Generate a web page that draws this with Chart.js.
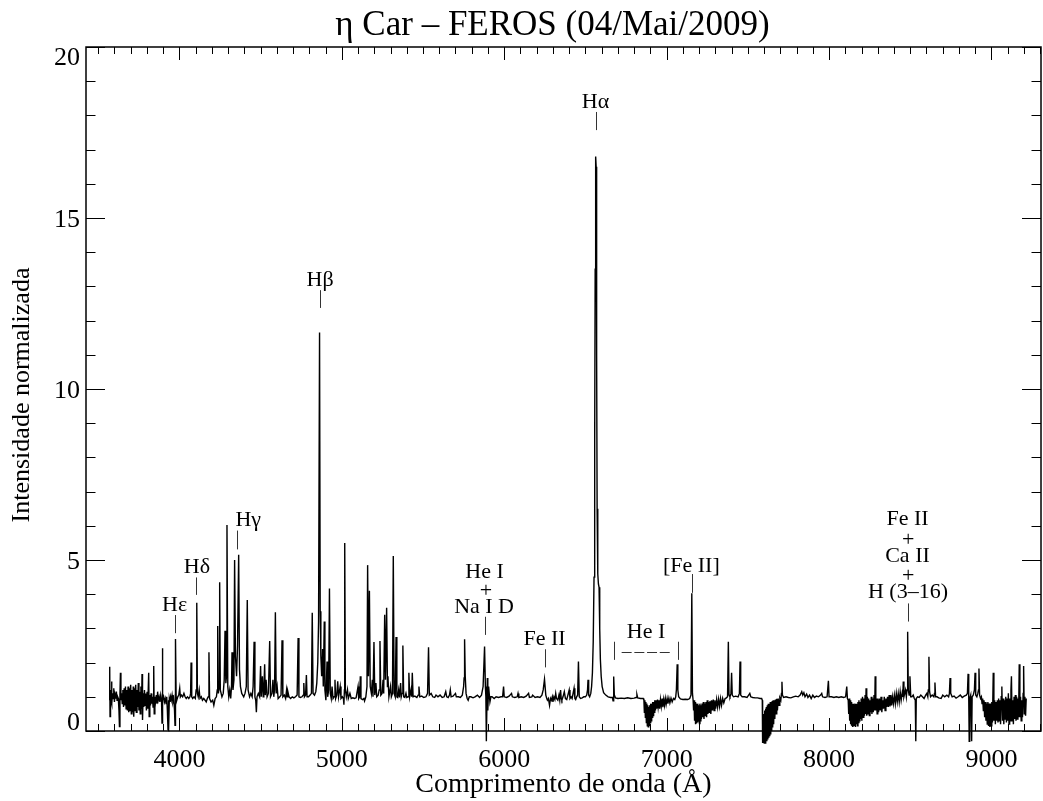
<!DOCTYPE html>
<html>
<head>
<meta charset="utf-8">
<script src="https://cdn.jsdelivr.net/npm/chart.js@4.4.1/dist/chart.umd.min.js"></script>
<style>
  html, body { margin: 0; padding: 0; background: #fff; }
  #wrap { width: 1043px; height: 801px; }
</style>
</head>
<body>
<div id="wrap"><canvas id="specChart" width="1043" height="801"></canvas></div>
<script>
// eta Car, FEROS, 2009-05-04: normalised flux vs wavelength (Angstrom)
const segBlue = [
  [3568,0.90],[3571,1.88],[3573,0.42],[3576,1.20],[3579,0.90],[3582,1.45],[3585,0.80],[3588,1.10],[3592,0.95],[3596,1.25],
  [3600,0.85],[3604,1.05],[3608,0.95],[3612,1.15],[3616,0.90],[3620,1.00],[3624,0.95],[3628,0.60],[3631,0.13],[3634,1.05],
  [3637,1.70],[3640,0.90],[3644,1.10],[3648,0.80],[3652,1.20],[3656,0.70],[3660,1.25],[3664,0.75],[3668,1.30],[3672,0.65],
  [3676,1.20],[3680,0.60],[3684,1.30],[3688,0.55],[3692,1.25],[3696,0.60],[3700,1.35],[3704,0.50],[3708,1.20],[3712,0.55],
  [3716,1.30],[3719,0.42],[3723,1.25],[3727,0.60],[3731,1.35],[3735,0.55],[3739,1.20],[3743,0.70],[3747,1.40],[3751,0.60],
  [3755,1.15],[3759,0.50],[3763,1.30],[3767,0.65],[3770,1.67],[3773,0.32],[3777,1.10],[3781,0.70],[3785,1.20],[3789,0.75],
  [3793,1.10],[3797,0.60],[3801,1.15],[3805,0.65],[3811,1.70],[3814,0.42],[3818,1.05],[3822,0.75],[3826,1.10],[3830,0.80],
  [3834,1.00],[3838,0.70],[3842,1.90],[3845,0.50],[3849,1.00],[3853,0.85],[3858,1.05],[3862,0.80],[3866,1.15],[3870,0.90],
  [3875,1.00],[3880,0.85],[3885,1.05],[3890,0.90],[3893,0.23],[3895,2.42],[3898,0.90],[3903,1.00],[3908,0.85],[3913,0.95],
  [3918,0.80],[3922,1.00],[3926,0.60],[3930,0.04],[3932,0.90],[3935,0.02],[3938,0.95],[3942,0.85],[3946,1.00],[3950,0.90],
  [3955,1.05],[3960,0.85],[3965,0.95],[3970,0.60],[3973,0.17],[3975,1.00],[3977,2.69],[3980,1.00],[3984,0.90],[3990,1.00],
  [3996,1.05],[4002,1.25],[4006,1.00],[4012,1.05],[4020,1.00],[4028,1.10],[4035,1.00],[4042,0.95],[4050,1.00],[4058,0.95],
  [4065,1.00],[4069,1.10],[4072,2.00],[4076,1.00],[4082,0.95],[4090,1.00],[4098,0.95],[4103,1.20],[4107,3.75],[4111,1.10],
  [4116,1.00],[4122,1.20],[4127,0.95],[4135,1.00],[4142,0.90],[4150,0.95],[4158,0.90],[4165,0.85],[4172,0.95],[4178,1.00],
  [4182,2.30],[4186,0.95],[4195,0.85],[4205,0.90],[4212,0.75],[4220,0.95],[4228,1.00],[4233,1.20],[4236,3.07],[4240,1.10],
  [4245,1.30],[4248,4.35],[4252,1.20],[4262,1.00],[4270,1.10],[4276,1.50],[4281,2.93],[4286,1.40],[4290,1.60],[4293,6.02],
  [4298,1.30],[4304,1.00],[4310,1.20],[4316,0.95],[4321,1.30],[4324,2.30],[4330,1.20],[4336,1.50],[4340,5.00],[4345,2.20],
  [4352,1.60],[4358,2.50],[4365,5.15],[4370,1.80],[4376,1.30],[4384,1.10],[4390,1.05],[4396,1.00],[4404,1.10],[4412,1.30],
  [4418,3.83],[4423,1.20],[4432,1.00],[4440,1.10],[4448,1.00],[4454,1.30],[4460,2.61],[4465,1.00],[4470,0.90],[4474,0.55],
  [4478,1.00]
];

const segGreen = [
  [4486,1.10],[4494,1.00],[4500,1.90],[4504,1.00],[4511,1.60],[4516,1.00],[4520,1.20],[4525,1.95],[4529,1.05],[4534,1.50],
  [4540,1.00],[4548,1.10],[4556,2.63],[4561,1.00],[4570,1.10],[4576,1.50],[4581,1.00],[4586,1.20],[4591,3.47],[4596,1.10],
  [4602,1.30],[4608,0.95],[4618,1.00],[4626,1.05],[4632,2.65],[4637,1.00],[4646,1.05],[4654,0.95],[4660,1.20],[4664,1.00],
  [4668,1.15],[4675,1.00],[4685,0.95],[4695,1.00],[4705,0.97],[4715,1.00],[4725,1.05],[4731,2.72],[4736,1.00],[4745,0.98],
  [4755,1.00],[4762,1.05],[4766,1.40],[4770,1.00],[4777,1.05],[4782,1.64],[4786,1.00],[4795,1.00],[4805,1.05],[4813,1.10],
  [4818,3.46],[4823,1.10],[4832,1.05],[4840,1.15],[4846,1.40],[4852,2.00],[4857,3.20],[4863,11.65],[4867,3.50],[4871,2.20],
  [4876,1.60],[4882,2.40],[4886,1.30],[4892,3.20],[4896,1.20],[4902,0.90],[4909,2.03],[4913,1.00],[4919,1.20],[4924,4.17],
  [4929,1.10],[4935,0.95],[4940,1.30],[4946,0.95],[4952,1.00],[4958,1.50],[4962,0.95],[4969,1.05],[4975,1.45],[4980,1.00],
  [4990,1.30],[4995,0.95],[5003,1.00],[5010,0.95],[5013,0.77],[5016,1.20],[5018,5.50],[5022,1.20],[5028,1.00],[5035,1.20],
  [5040,0.95],[5050,1.10],[5058,0.95],[5068,0.97],[5078,0.95],[5088,0.97],[5100,1.30],[5104,0.95],[5110,1.00],[5114,1.60],
  [5118,0.95],[5128,0.92],[5136,0.95],[5140,0.88],[5148,1.00],[5155,1.30],[5159,4.85],[5164,1.60],[5170,4.10],[5175,1.30],
  [5182,1.10],[5188,1.50],[5192,1.00],[5198,2.60],[5203,1.05],[5210,1.40],[5215,1.00],[5224,1.05],[5230,1.20],[5235,2.63],
  [5240,1.05],[5248,1.10],[5254,1.50],[5258,1.10],[5264,3.40],[5269,1.50],[5276,3.60],[5281,1.30],[5284,1.60],[5290,1.00],
  [5300,1.30],[5305,1.00],[5312,1.10],[5317,5.12],[5322,1.10],[5329,1.00],[5334,2.75],[5339,1.00],[5344,0.98],[5350,1.20],
  [5355,0.98],[5362,1.40],[5366,1.00],[5371,1.10],[5376,2.50],[5381,1.00],[5388,0.98],[5395,1.10],[5400,0.98],[5408,1.00],
  [5413,1.70],[5418,1.00],[5426,1.20],[5430,1.00],[5434,1.70],[5439,1.00],[5450,1.02],[5462,0.98],[5470,1.05],[5475,1.30],
  [5480,1.00],[5492,1.02],[5505,0.98],[5518,1.00],[5528,1.10],[5534,2.45],[5539,1.05],[5550,1.10],[5560,1.00],[5572,0.98],
  [5580,1.05],[5592,1.00]
];

const segYellow = [
  [5605,1.05],[5618,0.98],[5630,1.00],[5640,1.15],[5646,1.00],[5655,0.98],[5663,1.05],[5668,1.20],[5673,1.00],[5685,1.02],
  [5700,1.10],[5705,1.00],[5718,1.00],[5730,0.98],[5742,1.05],[5750,1.30],[5753,1.55],[5756,2.68],[5760,1.60],[5765,1.10],
  [5772,0.95],[5778,0.90],[5785,1.00],[5795,1.00],[5808,0.97],[5820,1.00],[5835,1.05],[5848,0.98],[5860,1.05],[5870,1.30],
  [5879,2.47],[5884,1.30],[5887,1.00],[5890,-0.30],[5893,-0.30],[5896,1.55],[5899,0.60],[5904,1.30],[5912,0.85],[5918,1.00],
  [5925,1.00],[5938,0.95],[5950,1.00],[5965,0.98],[5980,1.00],[5990,1.00],[5996,1.30],[6000,1.00],[6015,0.98],[6030,1.02],
  [6045,1.10],[6050,1.00],[6065,0.98],[6080,1.00],[6085,1.10],[6090,0.98],[6105,1.00],[6120,0.98],[6135,1.02],[6150,1.10],
  [6155,0.98],[6170,1.00],[6175,1.05],[6190,0.98],[6205,1.00],[6220,0.98],[6232,1.05],[6240,1.20],[6248,1.51],[6256,1.05],
  [6262,0.95],[6266,0.90],[6272,0.95],[6279,0.75],[6285,0.95],[6290,0.90],[6296,1.00],[6300,0.85],[6306,1.00],[6312,0.92],
  [6317,1.10],[6322,0.95],[6330,0.90],[6337,1.05],[6342,0.90],[6347,1.20],[6351,0.95],[6355,0.90],[6362,1.00],[6370,1.15],
  [6377,0.95],[6385,0.92],[6392,1.05],[6400,1.20],[6405,0.95],[6412,1.00],[6418,0.95],[6424,1.10],[6430,1.25],[6435,0.95],
  [6440,0.92],[6446,1.00],[6452,1.05],[6457,2.03],[6462,1.00],[6470,0.95],[6480,0.97],[6490,1.00],[6500,1.00],[6508,1.05],
  [6513,1.20],[6516,1.50],[6520,1.05],[6526,1.00]
];

const segRed = [
  [6533,1.10],[6538,1.30],[6543,1.70],[6548,2.60],[6553,4.50],[6557,8.50],[6560,13.50],[6563,16.80],[6566,16.50],[6569,11.00],
  [6572,6.50],[6576,4.60],[6580,4.30],[6584,4.20],[6588,3.00],[6592,2.10],[6597,1.60],[6603,1.30],[6612,1.12],[6625,1.05],
  [6640,1.00],[6655,0.98],[6666,0.98],[6670,0.88],[6674,1.59],[6678,1.05],[6685,0.97],[6700,0.95],[6720,0.96],[6740,0.95],
  [6760,0.97],[6780,0.95],[6800,0.96],[6812,0.98],[6817,1.07],[6822,0.97],[6840,0.95],[6856,0.95],
  [6860,0.90],[6863,0.55],[6866,0.90],[6869,0.40],[6872,0.85],[6875,0.25],[6878,0.80],[6881,0.15],[6884,0.75],[6887,0.12],
  [6890,0.70],[6893,0.17],[6896,0.75],[6899,0.25],[6902,0.80],[6905,0.30],[6908,0.80],[6911,0.40],[6914,0.85],[6917,0.45],
  [6920,0.85],[6923,0.55],[6927,0.90],[6931,0.60],[6935,0.90],[6939,0.65],[6944,0.92],[6948,0.70],[6953,0.90],[6957,0.65],
  [6962,0.92],[6967,0.72],[6972,0.95],[6977,0.70],[6982,0.92],[6987,0.75],[6992,0.95],[6997,0.78],[7003,0.95],[7008,0.80],
  [7014,0.96],[7020,0.82],[7027,0.96],[7034,0.85],[7042,0.95],[7050,0.92],[7056,1.00],[7060,1.20],[7065,1.95],[7069,1.20],
  [7074,1.00],[7085,0.94],[7100,0.92],[7115,0.93],[7130,0.92],[7142,0.95],[7150,1.05],[7155,4.03],[7159,1.10],[7163,0.90],
  [7166,0.60],[7169,0.90],[7172,0.30],[7175,0.85],[7178,0.20],[7181,0.80],[7184,0.22],[7187,0.75],[7190,0.25],[7193,0.80],
  [7196,0.30],[7199,0.75],[7202,0.22],[7205,0.80],[7208,0.30],[7211,0.75],[7214,0.35],[7218,0.80],[7222,0.40],[7226,0.85],
  [7230,0.35],[7234,0.80],[7238,0.45],[7242,0.85],[7246,0.40],[7250,0.90],[7254,0.50],[7258,0.85],[7262,0.55],[7267,0.88],
  [7272,0.50],[7277,0.90],[7282,0.60],[7287,0.92],[7292,0.60],[7297,0.90],[7302,0.65],[7308,0.92],[7314,0.70],[7320,0.93],
  [7326,0.72],[7332,0.95],[7338,0.75],[7345,0.95],[7352,0.82],[7360,0.95],[7368,0.97],[7375,1.00],[7380,2.61],[7384,1.05],
  [7390,1.00],[7396,1.10],[7400,1.70],[7404,1.05],[7412,1.00],[7425,1.02],[7440,1.00],[7448,1.10],[7452,2.03],[7456,1.05],
  [7465,1.00],[7480,1.00],[7495,0.98],[7505,1.05],[7512,1.10],[7518,1.00],[7530,0.98],[7545,0.97],[7560,0.97],[7575,0.95],
  [7585,0.95]
];

const segNearIR = [
  [7589,0.90],[7591,-0.35],[7594,0.40],[7596,-0.35],[7599,0.50],[7601,-0.35],[7604,0.60],[7606,-0.35],[7609,0.65],[7611,-0.30],
  [7614,0.70],[7617,-0.30],[7620,0.75],[7623,-0.25],[7626,0.80],[7629,-0.20],[7632,0.80],[7635,-0.15],[7638,0.85],[7641,-0.10],
  [7644,0.85],[7647,0.00],[7650,0.88],[7653,0.10],[7656,0.90],[7659,0.20],[7662,0.90],[7666,0.35],[7670,0.92],[7674,0.50],
  [7678,0.94],[7682,0.60],[7687,0.95],[7692,0.75],[7697,0.97],[7703,0.90],[7707,1.10],[7710,1.44],[7713,1.05],[7720,0.98],
  [7735,1.00],[7750,0.98],[7765,0.97],[7780,1.00],[7795,1.02],[7810,1.00],[7822,1.05],[7832,1.15],[7838,1.05],[7845,1.12],
  [7852,1.00],[7862,1.08],[7870,0.98],[7880,1.05],[7890,0.95],[7900,1.05],[7910,0.98],[7922,1.02],[7935,1.00],[7948,1.05],
  [7955,1.10],[7960,1.00],[7975,0.98],[7988,1.00],[7996,1.47],[8000,1.00],[8015,1.00],[8030,0.98],[8045,1.00],[8060,0.98],
  [8075,1.00],[8090,0.98],[8102,1.00],[8109,1.30],[8113,0.95],[8118,0.90],
  [8121,0.50],[8124,0.95],[8127,0.30],[8130,0.90],[8133,0.20],[8136,0.85],[8139,0.15],[8142,0.80],[8145,0.12],[8148,0.80],
  [8151,0.13],[8154,0.75],[8157,0.15],[8160,0.80],[8163,0.12],[8166,0.75],[8169,0.20],[8172,0.80],[8175,0.15],[8178,0.85],
  [8181,0.25],[8184,0.90],[8187,0.30],[8190,0.85],[8194,0.35],[8198,0.95],[8202,0.30],[8206,1.00],[8210,0.40],[8214,0.95],
  [8218,0.45],[8222,1.05],[8225,0.50],[8228,1.25],[8232,0.45],[8236,1.00],[8240,0.50],[8244,0.95],[8248,0.45],[8252,0.90],
  [8256,0.55],[8260,1.00],[8264,0.50],[8268,0.95],[8272,0.55],[8277,1.05],[8281,0.60],[8284,1.60],[8288,0.60],[8292,0.95],
  [8296,0.50],[8300,0.95],[8305,0.55],[8310,0.95],[8315,0.60],[8320,1.00],[8325,0.55],[8330,0.90],[8335,0.65],[8340,1.00],
  [8345,0.60],[8350,0.95],[8355,0.70],[8360,1.00],[8365,0.70],[8370,1.05],[8375,0.72],[8380,1.05],[8385,0.75],[8390,1.00],
  [8396,0.80],[8402,1.05],[8408,0.80],[8414,1.10],[8420,0.85],[8426,1.10],[8432,0.85],[8438,1.15],[8444,0.90],[8450,1.10],
  [8454,1.00],[8457,1.45],[8461,1.00],[8466,1.10],[8471,1.20],[8476,1.00],[8480,1.20],[8484,2.90],[8488,1.20],[8493,1.05],
  [8498,1.60],[8503,1.00],[8510,1.00],[8518,1.05],[8525,0.95],[8531,0.90],[8534,-0.30],[8537,0.95],[8545,1.00],[8555,0.98],
  [8565,1.05],[8575,1.00],[8585,0.95],[8595,1.05],[8602,1.10],[8608,1.00],[8611,1.20],[8615,2.17],[8619,1.15],[8625,1.00],
  [8635,1.05],[8645,1.00],[8649,1.10],[8652,1.42],[8656,1.00],[8665,1.00],[8675,0.97],[8690,0.95],[8700,1.05],[8712,1.00],
  [8725,1.05],[8736,1.00],[8741,1.10],[8745,1.55],[8749,1.10],[8758,1.00],[8770,1.02],[8782,0.96],[8795,1.00],[8808,1.05],
  [8820,0.98],[8832,1.02],[8845,1.05],[8852,1.10],[8856,1.67],[8860,1.00],[8863,-0.30],[8866,0.95],[8872,1.05],[8878,-0.30],
  [8881,1.00],[8888,1.05],[8895,1.20],[8899,1.70],[8903,1.05],[8910,1.00],[8916,1.10],[8920,1.20],[8923,1.83],[8927,1.05],
  [8933,0.95],[8938,1.00],
  [8942,0.80],[8946,0.95],[8950,0.60],[8954,0.90],[8958,0.40],[8962,0.85],[8966,0.30],[8970,0.80],[8974,0.20],[8978,0.85],
  [8982,0.15],[8986,0.80],[8990,0.12],[8994,0.80],[8998,0.15],[9002,0.85],[9006,0.25],[9011,1.70],[9015,0.30],[9020,0.90],
  [9024,0.20],[9028,0.85],[9032,0.30],[9036,0.90],[9040,0.25],[9044,0.95],[9048,0.30],[9052,0.90],[9056,0.20],[9060,1.00],
  [9064,1.30],[9068,0.30],[9072,0.95],[9076,0.20],[9080,0.90],[9084,0.35],[9088,1.00],[9092,0.25],[9096,0.95],[9100,0.30],
  [9104,1.10],[9108,0.20],[9112,0.95],[9116,0.30],[9120,1.20],[9123,1.60],[9127,0.30],[9131,0.90],[9135,0.20],[9139,1.00],
  [9143,0.35],[9147,1.05],[9151,0.30],[9155,1.00],[9159,0.35],[9163,0.95],[9167,0.40],[9171,1.95],[9175,0.40],[9179,1.00],
  [9183,0.30],[9187,0.90],[9191,0.40],[9195,1.10],[9198,1.90],[9202,0.50],[9206,1.00],[9210,0.45],[9214,0.95]
];

// axes
const xRange = [3425, 9305];
const yRange = [0, 20];
const xMajorTicks = [4000, 5000, 6000, 7000, 8000, 9000];
const yMajorTicks = [0, 5, 10, 15, 20];
const xMinorStep = 100;
const yMinorStep = 1;

// line identifications: text items (wavelength, flux level of text centre)
const idText  = ['H\u03b5', 'H\u03b4', 'H\u03b3', 'H\u03b2', 'H\u03b1', 'He I', '+', 'Na I D', 'Fe II', 'He I', '[Fe II]', 'Fe II', '+', 'Ca II', '+', 'H (3\u201316)'];
const idWave  = [3971, 4108, 4424, 4866, 6562, 5879, 5888, 5876, 6248, 6873, 7152, 8483, 8488, 8483, 8488, 8486];
const idLevel = [3.68, 4.80, 6.17, 13.19, 18.39, 4.63, 4.09, 3.63, 2.69, 2.88, 4.82, 6.20, 5.58, 5.12, 4.53, 4.06];

// marker bars under the identifications
const barWave = [3973, 4104, 4353, 4866, 6563, 5880, 6249, 6674, 7072, 7156, 8484];
const barLow  = [2.86, 3.98, 5.31, 12.37, 17.57, 2.81, 1.86, 2.08, 2.08, 4.04, 3.20];
const barHigh = [3.39, 4.49, 5.86, 12.89, 18.10, 3.34, 2.39, 2.61, 2.61, 4.59, 3.73];

// dashed bracket joining the two He I bars
const heBracket = [6723, 7020, 2.32];

const spectrum = segBlue.concat(segGreen, segYellow, segRed, segNearIR)
  .map(p => ({ x: p[0], y: p[1] }));

const serif = '"Liberation Serif", "Times New Roman", Times, serif';

const idlFrame = {
  id: 'idlFrame',
  afterDraw(chart) {
    const ctx = chart.ctx;
    const a = chart.chartArea;
    const xs = chart.scales.x;
    const ys = chart.scales.y;
    ctx.save();
    ctx.strokeStyle = '#000';
    ctx.lineWidth = 1.5;
    ctx.strokeRect(a.left, a.top, a.right - a.left, a.bottom - a.top);

    // inward ticks on all four sides
    ctx.lineWidth = 1;
    ctx.beginPath();
    for (let w = Math.ceil(xs.min / xMinorStep) * xMinorStep; w <= xs.max; w += xMinorStep) {
      const px = Math.round(xs.getPixelForValue(w)) + 0.5;
      const len = xMajorTicks.includes(w) ? 13 : 7;
      ctx.moveTo(px, a.bottom); ctx.lineTo(px, a.bottom - len);
      ctx.moveTo(px, a.top); ctx.lineTo(px, a.top + len);
    }
    for (let v = yRange[0]; v <= yRange[1]; v += yMinorStep) {
      const py = Math.round(ys.getPixelForValue(v)) + 0.5;
      const len = yMajorTicks.includes(v) ? 19 : 9.5;
      ctx.moveTo(a.left, py); ctx.lineTo(a.left + len, py);
      ctx.moveTo(a.right, py); ctx.lineTo(a.right - len, py);
    }
    ctx.stroke();

    ctx.fillStyle = '#000';

    // y tick labels; the end labels sit inside the axis span
    ctx.font = '26px ' + serif;
    ctx.textAlign = 'right';
    ctx.textBaseline = 'middle';
    yMajorTicks.forEach(v => {
      let shift = 2;
      if (v === yRange[0]) shift = -8;
      if (v === yRange[1]) shift = 11;
      ctx.fillText(String(v), a.left - 6, ys.getPixelForValue(v) + shift);
    });

    // titles
    ctx.textAlign = 'center';
    ctx.font = '35px ' + serif;
    ctx.fillText('\u03b7 Car \u2013 FEROS (04/Mai/2009)', (a.left + a.right) / 2 - 11, 26);
    ctx.font = '28px ' + serif;
    ctx.fillText('Comprimento de onda (\u00c5)', (a.left + a.right) / 2, 785);
    ctx.save();
    ctx.translate(22, (a.top + a.bottom) / 2 + 6);
    ctx.rotate(-Math.PI / 2);
    ctx.font = '26px ' + serif;
    ctx.fillText('Intensidade normalizada', 0, 0);
    ctx.restore();

    // identifications
    ctx.font = '22px ' + serif;
    idText.forEach((t, i) => {
      ctx.fillText(t, xs.getPixelForValue(idWave[i]), ys.getPixelForValue(idLevel[i]));
    });
    ctx.strokeStyle = '#333';
    ctx.lineWidth = 1;
    ctx.beginPath();
    barWave.forEach((w, i) => {
      const px = Math.round(xs.getPixelForValue(w)) + 0.5;
      ctx.moveTo(px, ys.getPixelForValue(barLow[i]));
      ctx.lineTo(px, ys.getPixelForValue(barHigh[i]));
    });
    ctx.stroke();
    ctx.setLineDash([10, 2.7]);
    ctx.beginPath();
    const by = Math.round(ys.getPixelForValue(heBracket[2])) + 0.5;
    ctx.moveTo(xs.getPixelForValue(heBracket[0]), by);
    ctx.lineTo(xs.getPixelForValue(heBracket[1]), by);
    ctx.stroke();
    ctx.restore();
  }
};

new Chart(document.getElementById('specChart'), {
  type: 'line',
  data: {
    datasets: [{
      data: spectrum,
      borderColor: '#000',
      borderWidth: 1.4,
      pointRadius: 0,
      tension: 0,
      fill: false,
      clip: false
    }]
  },
  options: {
    responsive: false,
    animation: false,
    devicePixelRatio: 1,
    layout: { padding: { top: 47, right: 2, left: 0, bottom: 0 } },
    plugins: { legend: { display: false }, tooltip: { enabled: false } },
    scales: {
      x: {
        type: 'linear',
        min: xRange[0],
        max: xRange[1],
        afterBuildTicks: s => { s.ticks = xMajorTicks.map(v => ({ value: v })); },
        afterFit: s => { s.height = 70; },
        grid: { display: false, drawTicks: false },
        border: { display: false },
        ticks: {
          color: '#000',
          font: { family: serif, size: 26 },
          padding: 14,
          maxRotation: 0,
          callback: v => String(v)
        }
      },
      y: {
        min: yRange[0],
        max: yRange[1],
        afterBuildTicks: s => { s.ticks = yMajorTicks.map(v => ({ value: v })); },
        afterFit: s => { s.width = 86; },
        grid: { display: false, drawTicks: false },
        border: { display: false },
        ticks: { display: false }
      }
    }
  },
  plugins: [idlFrame]
});
</script>
</body>
</html>
